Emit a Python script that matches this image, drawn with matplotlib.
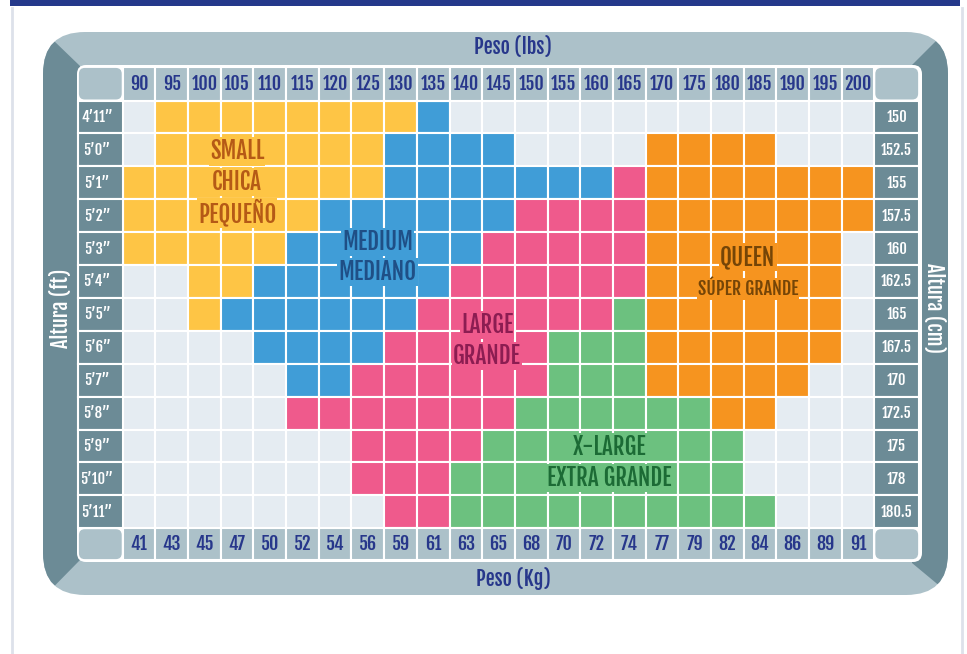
import matplotlib
matplotlib.use("Agg")
import logging
logging.getLogger("matplotlib.font_manager").setLevel(logging.ERROR)
import matplotlib.pyplot as plt
from matplotlib.patches import Rectangle, FancyBboxPatch, Polygon

# ---------------- data ----------------
lbs = [90, 95, 100, 105, 110, 115, 120, 125, 130, 135, 140, 145, 150,
       155, 160, 165, 170, 175, 180, 185, 190, 195, 200]
kg = [41, 43, 45, 47, 50, 52, 54, 56, 59, 61, 63, 65, 68, 70, 72, 74,
      77, 79, 82, 84, 86, 89, 91]
heights_ft = ["4’11”", "5’0”", "5’1”", "5’2”", "5’3”", "5’4”", "5’5”",
              "5’6”", "5’7”", "5’8”", "5’9”", "5’10”", "5’11”"]
heights_cm = ["150", "152.5", "155", "157.5", "160", "162.5", "165",
              "167.5", "170", "172.5", "175", "178", "180.5"]
# size code per (height row, weight column): . none, S small, M medium,
# L large, X x-large, Q queen
size_grid = [
    ".SSSSSSSSM.............",
    ".SSSSSSSMMMM....QQQQ...",
    "SSSSSSSSMMMMMMMLQQQQQQQ",
    "SSSSSSMMMMMMLLLLQQQQQQQ",
    "SSSSSMMMMMMLLLLLQQQQQQ.",
    "..SSMMMMMMLLLLLLQQQQQQ.",
    "..SMMMMMMLLLLLLXQQQQQQ.",
    "....MMMMLLLLLXXXQQQQQQ.",
    ".....MMLLLLLLXXXQQQQQ..",
    ".....LLLLLLLXXXXXXQQ...",
    ".......LLLLXXXXXXXX....",
    ".......LLLXXXXXXXXX....",
    "........LLXXXXXXXXXX...",
]
size_names = {
    "S": ["SMALL", "CHICA", "PEQUEÑO"],
    "M": ["MEDIUM", "MEDIANO"],
    "L": ["LARGE", "GRANDE"],
    "Q": ["QUEEN", "SÚPER GRANDE"],
    "X": ["X-LARGE", "EXTRA GRANDE"],
}

# ---------------- style ----------------
fill = {".": "#e5ecf2", "S": "#fec545", "M": "#409dd7", "L": "#ef5a8c",
        "X": "#6cc17f", "Q": "#f6941f"}
label_color = {"S": "#b55a16", "M": "#1f4f86", "L": "#8c1d52",
               "X": "#1c6b35", "Q": "#754507"}
light = "#acc1c9"
dark = "#6c8b96"
navy = "#27378b"
FONT = ["Fjalla One", "PT Sans Narrow", "Roboto Condensed",
        "IBM Plex Sans Condensed", "DejaVu Sans"]

W, H = 967, 654
fig = plt.figure(figsize=(W / 100, H / 100), dpi=100)
fig.patch.set_facecolor("white")

# background / frame axes in pixel units
bg = fig.add_axes([0, 0, 1, 1])
bg.set_xlim(0, W)
bg.set_ylim(H, 0)
bg.axis("off")

bg.add_patch(Rectangle((10, 0), 950, 6, fc="#25398b", ec="none"))
bg.plot([12, 12], [8, 654], color="#dde1ea", lw=2)
bg.plot([962, 962], [8, 654], color="#dde1ea", lw=2)

outer = FancyBboxPatch((43, 32), 905, 563,
                       boxstyle="round,pad=0,rounding_size=42",
                       fc=light, ec="none")
bg.add_patch(outer)
lp = Polygon([(25, 13), (80, 66), (80, 560), (25, 616)], closed=True,
             fc=dark, ec="none")
rp = Polygon([(912, 65), (965, 12), (965, 607), (912, 563)], closed=True,
             fc=dark, ec="none")
bg.add_patch(lp)
bg.add_patch(rp)
lp.set_clip_path(outer)
rp.set_clip_path(outer)
bg.add_patch(FancyBboxPatch((77, 65), 845, 497,
                            boxstyle="round,pad=0,rounding_size=9",
                            fc="white", ec="none"))

bg.text(513, 47, "Peso (lbs)", ha="center", va="center", color=navy,
        fontsize=14.5, fontweight="bold", family=FONT)
bg.text(513, 578, "Peso (Kg)", ha="center", va="center", color=navy,
        fontsize=14.5, fontweight="bold", family=FONT)
bg.text(61, 308, "Altura (ft)", ha="center", va="center", color="white",
        fontsize=14.5, fontweight="bold", rotation=90, family=FONT)
bg.text(934, 308, "Altura (cm)", ha="center", va="center", color="white",
        fontsize=14.5, fontweight="bold", rotation=270, family=FONT)

# main grid axes in cell units
x0, cw = 122.7, 32.68
y0, rh = 100.5, 32.9
ncol, nrow = len(lbs), len(heights_ft)
ax = fig.add_axes([x0 / W, 1 - (y0 + nrow * rh) / H, ncol * cw / W, nrow * rh / H])
ax.set_xlim(0, ncol)
ax.set_ylim(nrow, 0)
ax.axis("off")

LW = 1.5
side = 1.37
htop = 1.02
kgh = 0.97

for j, row in enumerate(size_grid):
    for i, code in enumerate(row):
        ax.add_patch(Rectangle((i, j), 1, 1, fc=fill[code], ec="white",
                               lw=LW, clip_on=False))

# header (lbs) and footer (kg)
for i, (a, b) in enumerate(zip(lbs, kg)):
    ax.add_patch(Rectangle((i, -htop), 1, htop, fc=light, ec="white",
                           lw=LW, clip_on=False))
    ax.text(i + 0.5, -htop / 2, str(a), ha="center", va="center",
            color=navy, fontsize=13, fontweight="bold", family=FONT)
    ax.add_patch(Rectangle((i, nrow), 1, kgh, fc=light, ec="white",
                           lw=LW, clip_on=False))
    ax.text(i + 0.5, nrow + kgh / 2, str(b), ha="center", va="center",
            color=navy, fontsize=13, fontweight="bold", family=FONT)

# corner cells
for (cx, cy, w, h) in [(-side, -htop, side, htop), (ncol, -htop, side, htop),
                       (-side, nrow, side, kgh), (ncol, nrow, side, kgh)]:
    ax.add_patch(FancyBboxPatch((cx + 0.03, cy + 0.03), w - 0.06, h - 0.06,
                                boxstyle="round,pad=0,rounding_size=0.18",
                                fc=light, ec="none", clip_on=False))

# side labels
for j, (ft, cm) in enumerate(zip(heights_ft, heights_cm)):
    ax.add_patch(Rectangle((-side, j), side, 1, fc=dark, ec="white",
                           lw=LW, clip_on=False))
    ax.text(-side / 2 - 0.1, j + 0.5, ft, ha="center", va="center",
            color="white", fontsize=10.5, fontweight="bold", family=FONT)
    ax.add_patch(Rectangle((ncol, j), side, 1, fc=dark, ec="white",
                           lw=LW, clip_on=False))
    ax.text(ncol + side / 2, j + 0.5, cm, ha="center", va="center",
            color="white", fontsize=10.5, fontweight="bold", family=FONT)

# region labels
label_pos = {
    "S": [(3.5, 1.55, 16.5), (3.5, 2.48, 16.5), (3.5, 3.42, 16.5)],
    "M": [(7.8, 4.3, 16.5), (7.8, 5.22, 16.5)],
    "L": [(11.15, 6.82, 16.5), (11.15, 7.77, 16.5)],
    "Q": [(19.13, 4.76, 16.5), (19.13, 5.73, 13)],
    "X": [(14.9, 10.53, 16.5), (14.9, 11.47, 16.5)],
}
for code, names in size_names.items():
    for name, (lx, ly, fs) in zip(names, label_pos[code]):
        ax.text(lx, ly, name, ha="center", va="center", color=label_color[code],
                fontsize=fs, fontweight="bold", family=FONT,
                bbox=dict(boxstyle="square,pad=0.05", fc=fill[code], ec="none"))

fig.savefig("out.png", dpi=100, facecolor="white")
